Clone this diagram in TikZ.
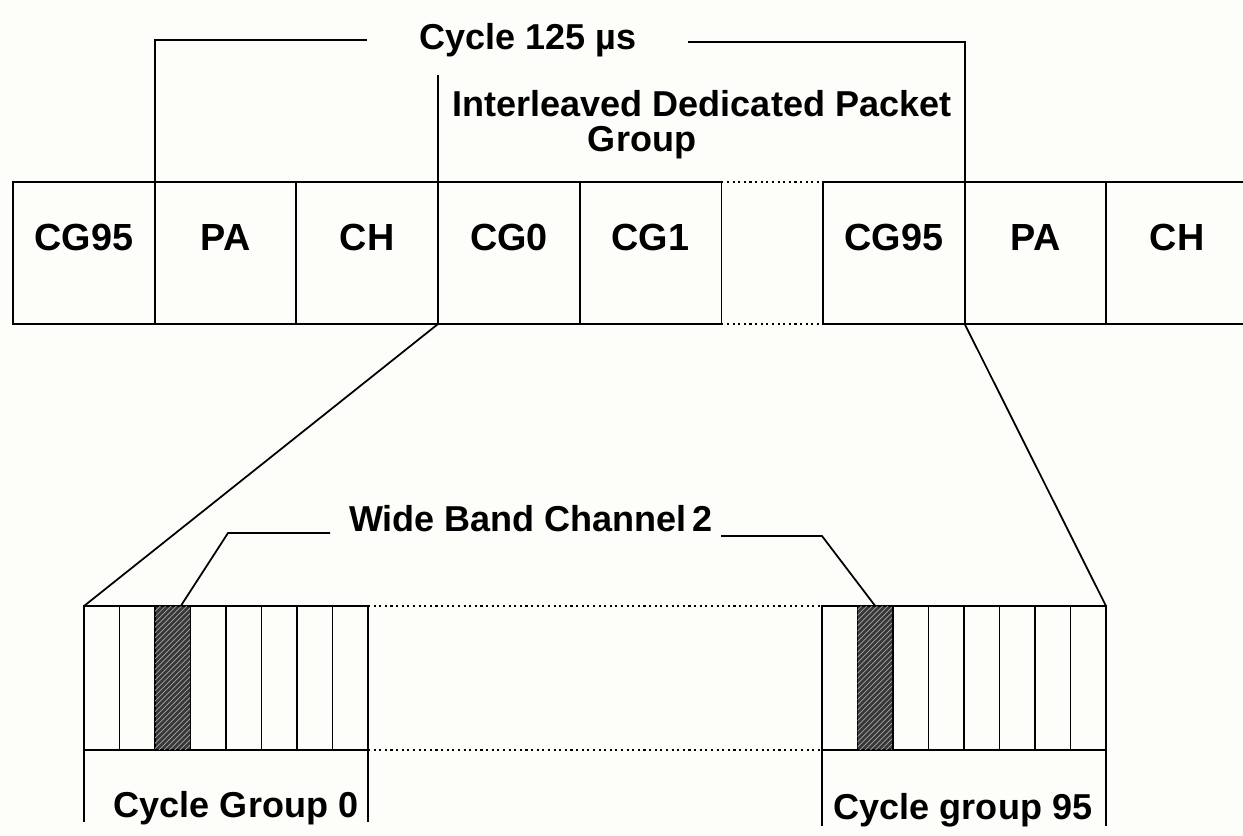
\documentclass[tikz,border=0pt]{standalone}
\usepackage{fontspec}
\setmainfont{Liberation Sans}
\usepackage{tikz}
\usetikzlibrary{positioning,patterns}
\definecolor{paper}{RGB}{253,253,250}
\definecolor{hatchcol}{RGB}{55,55,55}

\begin{document}
\begin{tikzpicture}[x=0.02cm, y=-0.02cm, line width=1pt,
    cell/.style={draw, outer sep=0pt, inner sep=0pt, minimum width=2.834cm, minimum height=2.84cm,
      font=\bfseries\fontsize{21.5}{24}\selectfont, text height=0.54cm, text depth=0.64cm},
    slot/.style={draw, outer sep=0pt, inner sep=0pt, minimum width=0.71cm, minimum height=2.88cm},
    hatchslot/.style={slot, fill=hatchcol, postaction={pattern=north east lines, pattern color=black!35}},
    lbl/.style={inner sep=0pt, font=\bfseries\fontsize{20.5}{23}\selectfont},
    gapline/.style={dotted, line width=1.2pt}]
    \useasboundingbox[fill=paper] (0,0) rectangle (1243,835);

    % Frame row
    \node[cell] (t1) at (83.85,253) {CG95};
    \node[cell, right=0pt of t1] (t2) {PA};
    \node[cell, right=0pt of t2] (t3) {CH};
    \node[cell, right=0pt of t3] (t4) {CG0};
    \node[cell, right=0pt of t4] (t5) {CG1};
    \node[cell] (t6) at (893.85,253) {CG95};
    \node[cell, right=0pt of t6] (t7) {PA};
    \node[cell, right=0pt of t7] (t8) {CH};
    \draw[gapline] (t5.north east) -- (t6.north west);
    \draw[gapline] (t5.south east) -- (t6.south west);

    % Labels
    \node[lbl] (cyc) at (528,40) {Cycle 125 µs};
    \node[lbl] (idp) at (702,104) {Interleaved Dedicated Packet};
    \node[lbl] (grp) at (642,143) {Group};
    \node[lbl] (wbc) at (531,519) {Wide Band Channel\,2};
    \node[lbl] (cg0) at (236,808) {Cycle Group 0};
    \node[lbl] (cg95) at (963,810) {Cycle group 95};

    % Cycle bracket
    \coordinate (cycL) at (367,40);
    \coordinate (cycR) at (688,42);
    \coordinate (idpTop) at (440,75);
    \draw (t2.north west) |- (cycL);
    \draw (cycR) -| (t7.north west);
    \draw (t4.north west) -- (t4.north west |- idpTop);

    % Cycle groups
    \foreach \i/\s in {1/slot,2/slot,3/hatchslot,4/slot,5/slot,6/slot,7/slot,8/slot}
      \node[\s] (a\i) at ({66.25+35.5*\i},678) {};
    \foreach \i/\s in {1/slot,2/hatchslot,3/slot,4/slot,5/slot,6/slot,7/slot,8/slot}
      \node[\s] (b\i) at ({804.25+35.5*\i},678) {};
    \draw[gapline] (a8.north east) -- (b1.north west);
    \draw[gapline] (a8.south east) -- (b1.south west);

    % Expansion lines
    \draw (t4.south west) -- (a1.north west);
    \draw (t7.south west) -- (b8.north east);

    % Wide band leaders
    \coordinate (wbL) at (330,533);
    \coordinate (wbR) at (721,536);
    \draw (wbL) -- ++(-102,0) -- ([xshift=0.16cm]a3.north);
    \draw (wbR) -- ++(101,0) -- (b2.north);

    % Group brackets
    \draw (a1.south west) -- ++(0,72);
    \draw (a8.south east) -- ++(0,72);
    \draw (b1.south west) -- ++(0,76);
    \draw (b8.south east) -- ++(0,76);
\end{tikzpicture}
\end{document}
